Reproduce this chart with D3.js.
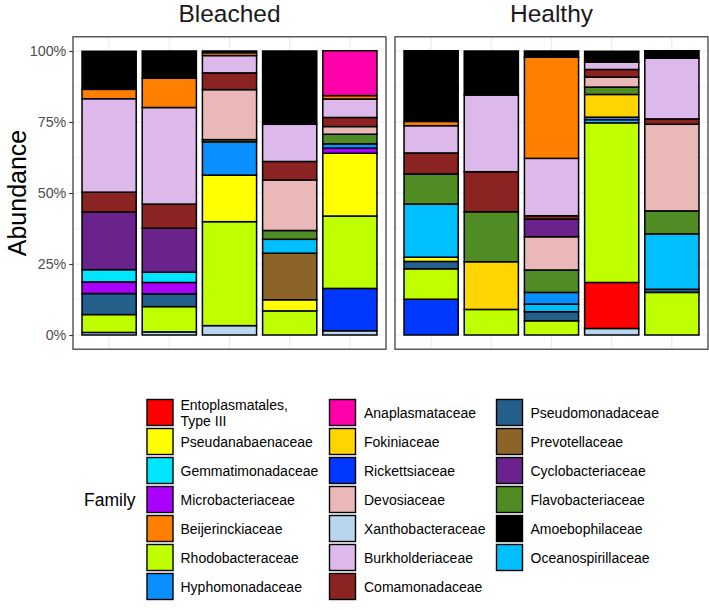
<!DOCTYPE html>
<html>
<head>
<meta charset="utf-8">
<script src="https://cdn.jsdelivr.net/npm/d3@7"></script>
<style>
  html, body { margin: 0; padding: 0; background: #fff; }
  svg { display: block; font-family: "Liberation Sans", Arial, Helvetica, sans-serif; }
</style>
</head>
<body>
<svg id="chart" width="709" height="610"></svg>
<script>
// ---------- DATA ----------
const groups = ["Bleached", "Healthy"];
const samples = ["B1", "B2", "B3", "B4", "B5", "H1", "H2", "H3", "H4", "H5"];
const sampleGroup = ["Bleached","Bleached","Bleached","Bleached","Bleached","Healthy","Healthy","Healthy","Healthy","Healthy"];
const yTicks = [0, 25, 50, 75, 100];
const yTickLabels = ["0%", "25%", "50%", "75%", "100%"];

// legend order (column-wise)
const legendFamilies = [
  "Entoplasmatales, Type III", "Pseudanabaenaceae", "Gemmatimonadaceae", "Microbacteriaceae",
  "Beijerinckiaceae", "Rhodobacteraceae", "Hyphomonadaceae",
  "Anaplasmataceae", "Fokiniaceae", "Rickettsiaceae", "Devosiaceae", "Xanthobacteraceae",
  "Burkholderiaceae", "Comamonadaceae",
  "Pseudomonadaceae", "Prevotellaceae", "Cyclobacteriaceae", "Flavobacteriaceae",
  "Amoebophilaceae", "Oceanospirillaceae"
];
const familyColors = [
  "#FF0000", "#FFFF00", "#00E5FF", "#AA00FF", "#FF8000", "#BFFF00", "#0A8FFF",
  "#FF00AA", "#FFD500", "#0038FF", "#EBB8B8", "#B8D6EE", "#DCB8EB", "#8C2323",
  "#24608C", "#8C6428", "#6A238C", "#4F8C23", "#000000", "#00BFFF"
];

// stacking order, top of bar first
const stackOrder = [
  "Amoebophilaceae", "Anaplasmataceae", "Beijerinckiaceae", "Burkholderiaceae", "Comamonadaceae",
  "Cyclobacteriaceae", "Devosiaceae", "Flavobacteriaceae", "Fokiniaceae", "Gemmatimonadaceae",
  "Hyphomonadaceae", "Microbacteriaceae", "Oceanospirillaceae", "Prevotellaceae", "Pseudanabaenaceae",
  "Pseudomonadaceae", "Rhodobacteraceae", "Rickettsiaceae", "Entoplasmatales, Type III", "Xanthobacteraceae"
];

// abundance (%) per family, samples B1..B5, H1..H5
const amoebophilaceae    = [13.4,  9.6,  0.6, 25.8,  0.0, 24.9, 15.5,  2.2,  3.8,  2.6];
const anaplasmataceae    = [ 0.0,  0.0,  0.0,  0.0, 15.8,  0.0,  0.0,  0.0,  0.0,  0.0];
const beijerinckiaceae   = [ 3.3, 10.3,  1.0,  0.0,  1.2,  1.5,  0.0, 35.6,  0.0,  0.0];
const burkholderiaceae   = [32.9, 34.0,  6.1, 13.1,  6.5,  9.6, 27.0, 20.2,  2.6, 21.4];
const comamonadaceae     = [ 7.0,  8.5,  5.9,  6.5,  3.2,  7.4, 14.1,  1.2,  2.7,  1.9];
const cyclobacteriaceae  = [20.3, 15.5,  0.0,  0.0,  0.0,  0.0,  0.0,  6.2,  0.0,  0.0];
const devosiaceae        = [ 0.0,  0.0, 17.6, 17.8,  2.7,  0.0,  0.0, 11.7,  3.5, 30.5];
const flavobacteriaceae  = [ 0.0,  0.0,  0.8,  3.1,  3.4, 10.6, 17.6,  7.9,  2.6,  8.1];
const fokiniaceae        = [ 0.0,  0.0,  0.0,  0.0,  0.0,  0.0, 16.8,  0.0,  8.0,  0.0];
const gemmatimonadaceae  = [ 4.3,  3.6,  0.0,  0.0,  0.0,  0.0,  0.0,  0.0,  0.0,  0.0];
const hyphomonadaceae    = [ 0.0,  0.0, 11.7,  0.0,  1.5,  0.0,  0.0,  4.1,  0.9,  0.0];
const microbacteriaceae  = [ 4.1,  4.0,  0.0,  0.0,  1.8,  0.0,  0.0,  0.0,  0.0,  0.0];
const oceanospirillaceae = [ 0.0,  0.0,  0.0,  4.9,  0.0, 18.7,  0.0,  2.7,  1.1, 19.5];
const prevotellaceae     = [ 0.0,  0.0,  0.0, 16.4,  0.0,  0.0,  0.0,  0.0,  0.0,  0.0];
const pseudanabaenaceae  = [ 0.0,  0.0, 16.4,  3.9, 22.1,  1.5,  0.0,  0.0,  0.0,  0.0];
const pseudomonadaceae   = [ 7.4,  4.5,  0.0,  0.0,  0.0,  2.6,  0.0,  3.2,  0.0,  1.1];
const rhodobacteraceae   = [ 6.3,  8.9, 36.6,  8.5, 25.5, 10.7,  9.0,  5.0, 56.2, 15.0];
const rickettsiaceae     = [ 0.0,  0.0,  0.0,  0.0, 14.9, 12.6,  0.0,  0.0,  0.0,  0.0];
const entoplasmatales    = [ 0.0,  0.0,  0.0,  0.0,  0.0,  0.0,  0.0,  0.0, 16.2,  0.0];
const xanthobacteraceae  = [ 0.9,  1.1,  3.3,  0.0,  1.5,  0.0,  0.0,  0.0,  2.3,  0.0];

const valuesByFamily = {
  "Amoebophilaceae": amoebophilaceae, "Anaplasmataceae": anaplasmataceae,
  "Beijerinckiaceae": beijerinckiaceae, "Burkholderiaceae": burkholderiaceae,
  "Comamonadaceae": comamonadaceae, "Cyclobacteriaceae": cyclobacteriaceae,
  "Devosiaceae": devosiaceae, "Flavobacteriaceae": flavobacteriaceae,
  "Fokiniaceae": fokiniaceae, "Gemmatimonadaceae": gemmatimonadaceae,
  "Hyphomonadaceae": hyphomonadaceae, "Microbacteriaceae": microbacteriaceae,
  "Oceanospirillaceae": oceanospirillaceae, "Prevotellaceae": prevotellaceae,
  "Pseudanabaenaceae": pseudanabaenaceae, "Pseudomonadaceae": pseudomonadaceae,
  "Rhodobacteraceae": rhodobacteraceae, "Rickettsiaceae": rickettsiaceae,
  "Entoplasmatales, Type III": entoplasmatales, "Xanthobacteraceae": xanthobacteraceae
};

// ---------- CHART ----------
const svg = d3.select("#chart");
const color = d3.scaleOrdinal().domain(legendFamilies).range(familyColors);

const panelTop = 36.8, panelBottom = 349.2;
const panels = [{ g: "Bleached", x0: 73, x1: 386 }, { g: "Healthy", x0: 395, x1: 708 }];

const y = d3.scaleLinear().domain([-5, 105]).range([panelBottom, panelTop]);

// stacked data: bottom of stack is last in stackOrder
const stackKeys = stackOrder.slice().reverse();
const tableRows = samples.map((s, i) => {
  const row = { sample: s, group: sampleGroup[i] };
  stackKeys.forEach(k => row[k] = valuesByFamily[k][i]);
  return row;
});
const series = d3.stack().keys(stackKeys)(tableRows);

panels.forEach(p => {
  const gSamples = samples.filter((s, i) => sampleGroup[i] === p.g);
  const x = d3.scaleBand().domain(gSamples).range([p.x0, p.x1]).paddingInner(0.1).paddingOuter(0.15);
  const g = svg.append("g");

  // grid
  const minor = [12.5, 37.5, 62.5, 87.5];
  g.selectAll(".minor").data(minor).join("line")
    .attr("x1", p.x0).attr("x2", p.x1).attr("y1", d => y(d)).attr("y2", d => y(d))
    .attr("stroke", "#EBEBEB").attr("stroke-width", 0.6);
  g.selectAll(".major").data(yTicks).join("line")
    .attr("x1", p.x0).attr("x2", p.x1).attr("y1", d => y(d)).attr("y2", d => y(d))
    .attr("stroke", "#EBEBEB").attr("stroke-width", 1.1);
  g.selectAll(".vmajor").data(gSamples).join("line")
    .attr("x1", d => x(d) + x.bandwidth() / 2).attr("x2", d => x(d) + x.bandwidth() / 2)
    .attr("y1", panelTop).attr("y2", panelBottom)
    .attr("stroke", "#EBEBEB").attr("stroke-width", 1.1);

  // bars
  series.forEach(ser => {
    const fam = ser.key;
    ser.forEach(d => {
      if (d.data.group !== p.g) return;
      if (d[1] - d[0] <= 0) return;
      g.append("rect")
        .attr("x", x(d.data.sample))
        .attr("width", x.bandwidth())
        .attr("y", y(d[1]))
        .attr("height", y(d[0]) - y(d[1]))
        .attr("fill", color(fam))
        .attr("stroke", "#000")
        .attr("stroke-width", 1.5);
    });
  });

  // panel border
  g.append("rect").attr("x", p.x0).attr("y", panelTop)
    .attr("width", p.x1 - p.x0).attr("height", panelBottom - panelTop)
    .attr("fill", "none").attr("stroke", "#333").attr("stroke-width", 1.2);

  // strip title
  svg.append("text").attr("x", (p.x0 + p.x1) / 2).attr("y", 22)
    .attr("text-anchor", "middle").attr("font-size", 24.5).attr("fill", "#1a1a1a")
    .text(p.g);
});

// y axis (left panel)
const yAxis = d3.axisLeft(y).tickValues(yTicks).tickFormat((d, i) => yTickLabels[i]).tickSize(3.7).tickPadding(3);
const ax = svg.append("g").attr("transform", `translate(${panels[0].x0},0)`).call(yAxis);
ax.select(".domain").remove();
ax.selectAll(".tick line").attr("stroke", "#333").attr("stroke-width", 1.1);
ax.selectAll(".tick text").attr("fill", "#4d4d4d").attr("font-size", 14.3)
  .attr("font-family", "'Liberation Sans', Arial, Helvetica, sans-serif");

// y title
svg.append("text")
  .attr("transform", `translate(25.5,${(panelTop + panelBottom) / 2}) rotate(-90)`)
  .attr("text-anchor", "middle").attr("font-size", 25).attr("fill", "#000")
  .text("Abundance");

// legend
const legX = [147, 329.5, 496.5];
const labX = [180.5, 364, 530.5];
const legY0 = 399.5, rowStep = 29, keySize = 26;
const perCol = 7;
svg.append("text").attr("x", 84).attr("y", 500).attr("dominant-baseline", "central")
  .attr("font-size", 17.5).attr("fill", "#000").text("Family");

legendFamilies.forEach((f, i) => {
  const c = Math.floor(i / perCol), r = i % perCol;
  const yy = legY0 + r * rowStep;
  svg.append("rect").attr("x", legX[c]).attr("y", yy).attr("width", keySize).attr("height", keySize)
    .attr("fill", color(f)).attr("stroke", "#000").attr("stroke-width", 1.4);
  const parts = f.includes(", ") ? [f.split(", ")[0] + ",", f.split(", ")[1]] : [f];
  const t = svg.append("text").attr("x", labX[c]).attr("font-size", 14).attr("fill", "#000");
  if (parts.length === 1) {
    t.attr("y", yy + keySize / 2).attr("dominant-baseline", "central").text(f);
  } else {
    t.append("tspan").attr("x", labX[c]).attr("y", yy + keySize / 2 - 8).attr("dominant-baseline", "central").text(parts[0]);
    t.append("tspan").attr("x", labX[c]).attr("y", yy + keySize / 2 + 8).attr("dominant-baseline", "central").text(parts[1]);
  }
});
</script>
</body>
</html>
